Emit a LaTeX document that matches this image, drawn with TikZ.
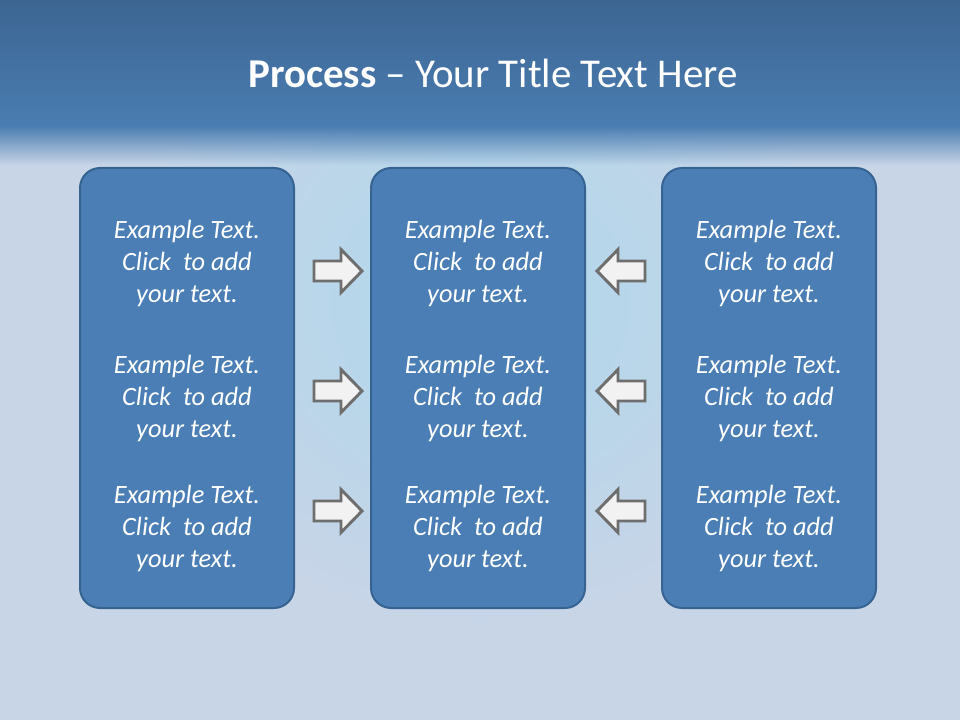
\documentclass[tikz,border=0pt]{standalone}
\usepackage{fontspec}
\setmainfont{Carlito}
\usetikzlibrary{fadings}
\definecolor{bandtop}{HTML}{3C6592}
\definecolor{bandlow}{HTML}{4A7DB1}
\definecolor{bgbase}{HTML}{C8D5E7}
\definecolor{glowblue}{HTML}{A8D8EE}
\definecolor{panelfill}{HTML}{4A7EB5}
\definecolor{panelline}{HTML}{366392}
\definecolor{arrowline}{HTML}{6E6E6E}
\definecolor{arrowfill}{HTML}{F2F2F2}
\tikzfading[name=fade down, top color=transparent!0, bottom color=transparent!100]
\tikzfading[name=glow fade, inner color=transparent!20, outer color=transparent!100]
\tikzset{
  panel/.style={draw=panelline, line width=1.5pt, fill=panelfill, rounded corners=15pt,
    minimum width=160.5pt, minimum height=330pt},
  steptext/.style={text=white, align=center, font=\fontsize{19.8}{24}\selectfont\itshape},
  titletext/.style={text=white, font=\fontsize{30.7}{36}\selectfont},
  pics/flowarrow/.style={code={
    \draw[draw=arrowline, line width=2.2pt, fill=arrowfill, line join=miter]
      (-24,-10) -- (3,-10) -- (3,-21.5) -- (24,0) -- (3,21.5) -- (3,10) -- (-24,10) -- cycle;
  }}
}
\begin{document}
\begin{tikzpicture}[x=0.75pt, y=-0.75pt]
  \useasboundingbox (0,0) rectangle (960,720);
  % background
  \fill[bgbase] (0,0) rectangle (960,720);
  \fill[glowblue, path fading=glow fade] (480,300) ellipse [x radius=360, y radius=330];
  \shade[top color=bandtop, bottom color=bandlow] (0,0) rectangle (960,127);
  \fill[bandlow, path fading=fade down] (0,126) rectangle (960,165);
  \node[titletext, anchor=base] (title) at (493,88) {\textbf{Process} -- Your Title Text Here};
  % panels and texts
  \foreach \col/\cx in {left/187, mid/478, right/769} {
    \node[panel] (\col) at (\cx,388) {};
    \foreach \row/\cy in {1/263, 2/398, 3/528}
      \node[steptext] (\col\row) at (\cx,\cy) {Example Text.\\Click\ \ to add\\your text.};
  }
  % arrows
  \foreach \row/\ay in {1/271, 2/391, 3/511} {
    \pic (toright\row) at (338,\ay) {flowarrow};
    \pic[xscale=-1] (toleft\row) at (621,\ay) {flowarrow};
  }
\end{tikzpicture}
\end{document}
